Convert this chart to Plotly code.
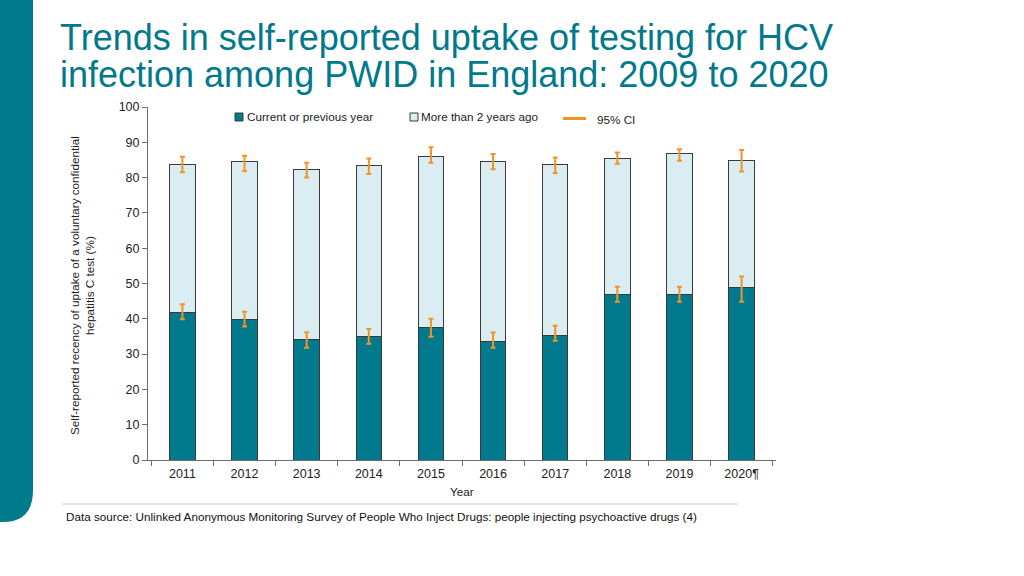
import plotly.graph_objects as go

years = ["2011", "2012", "2013", "2014", "2015", "2016", "2017", "2018", "2019", "2020¶"]
recent = [41.8, 39.9, 34.2, 35.1, 37.5, 33.7, 35.4, 47.0, 47.0, 49.0]
recent_lo = [39.9, 37.8, 31.8, 32.9, 34.9, 31.8, 33.8, 44.8, 44.8, 44.8]
recent_hi = [44.1, 42.0, 36.2, 37.1, 40.0, 36.1, 38.0, 49.1, 49.1, 52.0]
total = [83.8, 84.5, 82.4, 83.5, 86.1, 84.5, 83.8, 85.5, 86.7, 84.9]
total_lo = [81.5, 81.9, 80.0, 81.0, 84.2, 82.4, 81.3, 83.9, 84.8, 81.7]
total_hi = [85.9, 86.2, 84.2, 85.4, 88.6, 86.7, 85.7, 87.1, 88.0, 87.8]

TEAL = "#007A8C"
LIGHT = "#DAEDF2"
ORANGE = "#F39325"
EDGE = "#3A3A3A"
FONT = "Liberation Sans, Arial"

# plot-area geometry in pixels
L, R, T, B = 148, 776, 107, 460
W, H = R - L, B - T


def px(x):
    return (x - L) / W


def py(y):
    return (B - y) / H


older = [t - r for t, r in zip(total, recent)]

fig = go.Figure()
fig.add_trace(go.Bar(x=years, y=recent, marker=dict(color=TEAL, line=dict(color=EDGE, width=1)),
                     width=0.41, showlegend=False))
fig.add_trace(go.Bar(x=years, y=older, marker=dict(color=LIGHT, line=dict(color=EDGE, width=1)),
                     width=0.41, showlegend=False))


def ci_trace(y, lo, hi):
    return go.Scatter(x=years, y=y, mode="markers", marker=dict(size=1, opacity=0),
                      error_y=dict(type="data", symmetric=False,
                                   array=[h - v for h, v in zip(hi, y)],
                                   arrayminus=[v - l for v, l in zip(y, lo)],
                                   color=ORANGE, thickness=2, width=2.5),
                      showlegend=False, hoverinfo="skip")


fig.add_trace(ci_trace(recent, recent_lo, recent_hi))
fig.add_trace(ci_trace(total, total_lo, total_hi))

strip = (f"M {px(-20)} {py(-20)} L {px(33)} {py(-20)} L {px(33)} {py(490)} "
         f"Q {px(33)} {py(522)} {px(3)} {py(522)} L {px(-20)} {py(522)} Z")

shapes = [
    dict(type="path", xref="paper", yref="paper", path=strip,
         fillcolor=TEAL, line=dict(width=0), layer="above"),
    dict(type="line", xref="paper", yref="paper", x0=px(62), x1=px(738), y0=py(504), y1=py(504),
         line=dict(color="#C8C8C8", width=1)),
    dict(type="rect", xref="paper", yref="paper", x0=px(235), x1=px(243), y0=py(121), y1=py(113),
         fillcolor=TEAL, line=dict(color=EDGE, width=1)),
    dict(type="rect", xref="paper", yref="paper", x0=px(410), x1=px(418), y0=py(121), y1=py(113),
         fillcolor=LIGHT, line=dict(color=EDGE, width=1)),
    dict(type="line", xref="paper", yref="paper", x0=px(563), x1=px(586), y0=py(118.5), y1=py(118.5),
         line=dict(color=ORANGE, width=3)),
]

small = dict(family=FONT, size=11.7, color="#222")
annotations = [
    dict(text="Trends in self-reported uptake of testing for HCV", xref="paper", yref="paper",
         x=px(58), y=py(37), xanchor="left", yanchor="middle", showarrow=False,
         font=dict(family=FONT, size=36, color="#00798C")),
    dict(text="infection among PWID in England: 2009 to 2020", xref="paper", yref="paper",
         x=px(58), y=py(74), xanchor="left", yanchor="middle", showarrow=False,
         font=dict(family=FONT, size=36, color="#00798C")),
    dict(text="Current or previous year", xref="paper", yref="paper", x=px(245), y=py(117),
         xanchor="left", yanchor="middle", showarrow=False, font=small),
    dict(text="More than 2 years ago", xref="paper", yref="paper", x=px(419), y=py(117),
         xanchor="left", yanchor="middle", showarrow=False, font=small),
    dict(text="95% CI", xref="paper", yref="paper", x=px(595), y=py(119),
         xanchor="left", yanchor="middle", showarrow=False, font=small),
    dict(text="Self-reported recency of uptake of a voluntary confidential<br>hepatitis C test (%)",
         xref="paper", yref="paper", x=px(82), y=py(286), xanchor="center", yanchor="middle",
         textangle=-90, showarrow=False, font=small),
    dict(text="Year", xref="paper", yref="paper", x=0.5, y=py(491), xanchor="center", yanchor="middle",
         showarrow=False, font=small),
    dict(text="Data source: Unlinked Anonymous Monitoring Survey of People Who Inject Drugs: people injecting psychoactive drugs (4)",
         xref="paper", yref="paper", x=px(64), y=py(516), xanchor="left", yanchor="middle",
         showarrow=False, font=dict(family=FONT, size=11.7, color="#111")),
]

fig.update_layout(
    barmode="stack",
    width=1024, height=576,
    margin=dict(l=L, r=1024 - R, t=T, b=576 - B),
    paper_bgcolor="white", plot_bgcolor="white",
    font=dict(family=FONT, size=12, color="#222"),
    shapes=shapes, annotations=annotations,
    showlegend=False,
)
fig.update_yaxes(range=[0, 100], dtick=10, showgrid=False, zeroline=False,
                 showline=True, linecolor="#6E6E6E", linewidth=1,
                 ticks="outside", ticklen=5, tickcolor="#6E6E6E",
                 tickfont=dict(family=FONT, size=12.5, color="#222"))
fig.update_xaxes(showgrid=False, showline=True, linecolor="#6E6E6E", linewidth=1,
                 ticks="outside", ticklen=5, tickcolor="#6E6E6E", tickson="boundaries",
                 ticklabelstandoff=2,
                 tickfont=dict(family=FONT, size=12.5, color="#222"))

fig.write_html("out.html", config={"displayModeBar": False},
               post_script="document.body.style.margin='0';")
